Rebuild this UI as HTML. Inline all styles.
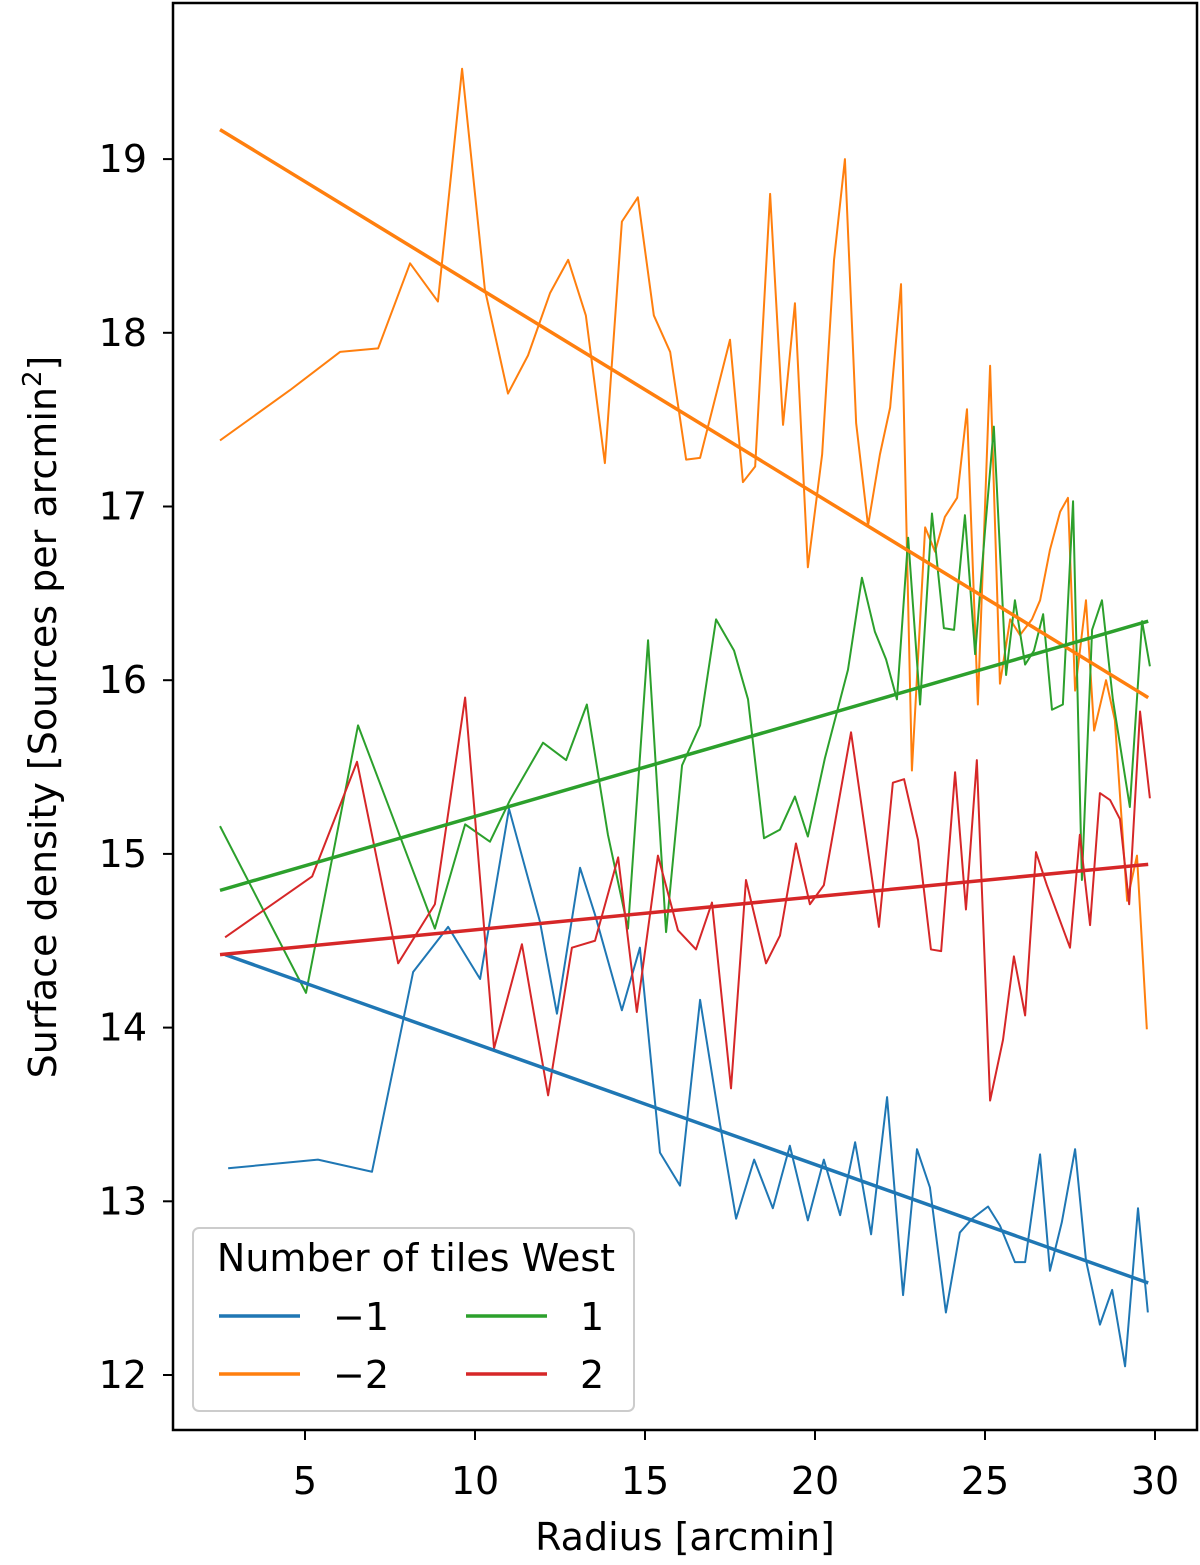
<!DOCTYPE html>
<html><head><meta charset="utf-8"><style>
body{margin:0;background:#fff;}
svg text{font-family:"DejaVu Sans","Liberation Sans",sans-serif;fill:#000;}
</style></head><body>
<svg id="chart" width="1200" height="1560" xmlns="http://www.w3.org/2000/svg">
<g id="plot"></g>
<rect x="173" y="3" width="1024" height="1427" fill="none" stroke="#000" stroke-width="2.5"/>
<g id="xt"></g>
<g id="yt"></g>
<text x="685" y="1550" font-size="38" text-anchor="middle">Radius [arcmin]</text>
<text transform="translate(56,717) rotate(-90)" font-size="38" text-anchor="middle">Surface density [Sources per arcmin<tspan baseline-shift="super" font-size="26">2</tspan>]</text>
<g>
<rect x="193" y="1228" width="441" height="183" rx="6" fill="#fff" fill-opacity="0.8" stroke="#ccc" stroke-width="2"/>
<text x="416" y="1271" font-size="38" text-anchor="middle">Number of tiles West</text>
<line x1="219" x2="300" y1="1316" y2="1316" stroke="#1f77b4" stroke-width="3.5"/>
<text x="333" y="1330" font-size="38">−1</text>
<line x1="219" x2="300" y1="1374" y2="1374" stroke="#ff7f0e" stroke-width="3.5"/>
<text x="333" y="1388" font-size="38">−2</text>
<line x1="466" x2="547" y1="1316" y2="1316" stroke="#2ca02c" stroke-width="3.5"/>
<text x="580" y="1330" font-size="38">1</text>
<line x1="466" x2="547" y1="1374" y2="1374" stroke="#d62728" stroke-width="3.5"/>
<text x="580" y="1388" font-size="38">2</text>
</g>
</svg>
<script>
const xTicks=[5,10,15,20,25,30];
const yTicks=[12,13,14,15,16,17,18,19];
const seriesNames=["minus1","minus2","1","2"];
const seriesColors=["#1f77b4","#ff7f0e","#2ca02c","#d62728"];
const blueR=[2.74,5.38,6.97,8.18,9.21,10.15,11.0,11.91,12.41,13.09,13.53,14.32,14.85,15.44,16.03,16.62,17.21,17.68,18.21,18.76,19.26,19.79,20.26,20.74,21.18,21.65,22.12,22.59,23.0,23.38,23.85,24.26,24.62,25.09,25.44,25.88,26.18,26.62,26.91,27.26,27.65,27.97,28.38,28.74,29.12,29.5,29.79];
const blueD=[13.19,13.24,13.17,14.32,14.58,14.28,15.26,14.61,14.08,14.92,14.65,14.1,14.46,13.28,13.09,14.16,13.44,12.9,13.24,12.96,13.32,12.89,13.24,12.92,13.34,12.81,13.6,12.46,13.3,13.08,12.36,12.82,12.9,12.97,12.86,12.65,12.65,13.27,12.6,12.88,13.3,12.66,12.29,12.49,12.05,12.96,12.36];
const orangeR=[2.5,4.56,6.03,7.15,8.09,8.91,9.62,10.29,10.97,11.56,12.21,12.74,13.26,13.82,14.32,14.79,15.26,15.74,16.21,16.62,17.5,17.88,18.24,18.68,19.06,19.41,19.79,20.21,20.56,20.88,21.21,21.56,21.91,22.21,22.53,22.85,23.24,23.53,23.82,24.18,24.47,24.79,25.15,25.44,25.74,26.03,26.38,26.62,26.91,27.21,27.44,27.65,27.97,28.21,28.56,28.82,29.18,29.47,29.76];
const orangeD=[17.38,17.67,17.89,17.91,18.4,18.18,19.52,18.25,17.65,17.87,18.23,18.42,18.1,17.25,18.64,18.78,18.1,17.89,17.27,17.28,17.96,17.14,17.23,18.8,17.47,18.17,16.65,17.3,18.42,19.0,17.48,16.89,17.3,17.57,18.28,15.48,16.88,16.74,16.94,17.05,17.56,15.86,17.81,15.98,16.35,16.26,16.35,16.46,16.75,16.97,17.05,15.94,16.46,15.71,16.0,15.77,14.73,14.99,13.99];
const greenR=[2.5,5.03,6.56,8.82,9.71,10.44,11.03,12.0,12.68,13.29,13.91,14.5,15.09,15.62,16.09,16.62,17.09,17.62,18.03,18.5,18.97,19.41,19.79,20.29,20.97,21.38,21.76,22.09,22.41,22.74,23.09,23.44,23.79,24.09,24.41,24.71,25.0,25.26,25.62,25.88,26.18,26.44,26.71,26.97,27.29,27.59,27.85,28.15,28.44,28.76,29.26,29.62,29.85];
const greenD=[15.16,14.2,15.74,14.57,15.17,15.07,15.31,15.64,15.54,15.86,15.11,14.57,16.23,14.55,15.51,15.74,16.35,16.17,15.89,15.09,15.14,15.33,15.1,15.55,16.06,16.59,16.28,16.12,15.89,16.82,15.86,16.96,16.3,16.29,16.95,16.15,16.86,17.46,16.03,16.46,16.09,16.17,16.38,15.83,15.86,17.03,14.85,16.29,16.46,15.89,15.27,16.34,16.08];
const redR=[2.65,5.21,6.53,7.74,8.82,9.71,10.56,11.38,12.15,12.85,13.53,14.21,14.76,15.38,15.97,16.5,16.97,17.53,17.97,18.56,18.97,19.44,19.85,20.26,21.06,21.88,22.29,22.62,23.03,23.41,23.71,24.12,24.44,24.76,25.15,25.53,25.85,26.18,26.5,26.82,27.5,27.79,28.09,28.38,28.68,28.97,29.24,29.56,29.85];
const redD=[14.52,14.87,15.53,14.37,14.71,15.9,13.88,14.48,13.61,14.46,14.5,14.98,14.09,14.99,14.56,14.45,14.72,13.65,14.85,14.37,14.53,15.06,14.71,14.82,15.7,14.58,15.41,15.43,15.08,14.45,14.44,15.47,14.68,15.54,13.58,13.93,14.41,14.07,15.01,14.82,14.46,15.11,14.59,15.35,15.31,15.2,14.71,15.82,15.32];
const fitR0=[2.65,2.5,2.5,2.5];
const fitR1=[29.8,29.8,29.8,29.8];
const fitD0=[14.42,19.17,14.79,14.42];
const fitD1=[12.53,15.9,16.34,14.94];

const NS="http://www.w3.org/2000/svg";
const X=v=>305+(v-5)*34;
const Y=v=>1375-(v-12)*173.7;
const plot=document.getElementById('plot');
const allR=[blueR,orangeR,greenR,redR], allD=[blueD,orangeD,greenD,redD];
for(let s=0;s<4;s++){
  const p=document.createElementNS(NS,'polyline');
  
  
  p.setAttribute('points',allR[s].map((r,i)=>X(r)+','+Y(allD[s][i])).join(' '));
  p.setAttribute('fill','none');p.setAttribute('stroke',seriesColors[s]);p.setAttribute('stroke-width','2');p.setAttribute('stroke-linejoin','round');
  plot.appendChild(p);
}
for(let s=0;s<4;s++){
  const l=document.createElementNS(NS,'line');
  
  
  l.setAttribute('x1',X(fitR0[s]));l.setAttribute('y1',Y(fitD0[s]));
  l.setAttribute('x2',X(fitR1[s]));l.setAttribute('y2',Y(fitD1[s]));
  l.setAttribute('stroke',seriesColors[s]);l.setAttribute('stroke-width','3.5');
  plot.appendChild(l);
}
const xt=document.getElementById('xt');
xTicks.forEach(v=>{
  const l=document.createElementNS(NS,'line');
  
  
  l.setAttribute('x1',X(v));l.setAttribute('x2',X(v));l.setAttribute('y1',1430);l.setAttribute('y2',1440);l.setAttribute('stroke','#000');l.setAttribute('stroke-width','2');
  xt.appendChild(l);
  const t=document.createElementNS(NS,'text');
  
  
  t.setAttribute('x',X(v));t.setAttribute('y',1494);t.setAttribute('font-size','38');t.setAttribute('text-anchor','middle');
  t.textContent=v;xt.appendChild(t);
});
const yt=document.getElementById('yt');
yTicks.forEach(v=>{
  const l=document.createElementNS(NS,'line');
  
  
  l.setAttribute('x1',163);l.setAttribute('x2',173);l.setAttribute('y1',Y(v));l.setAttribute('y2',Y(v));l.setAttribute('stroke','#000');l.setAttribute('stroke-width','2');
  yt.appendChild(l);
  const t=document.createElementNS(NS,'text');
  
  
  t.setAttribute('x',147);t.setAttribute('y',Y(v)+13);t.setAttribute('font-size','38');t.setAttribute('text-anchor','end');
  t.textContent=v;yt.appendChild(t);
});
</script>
</body></html>
